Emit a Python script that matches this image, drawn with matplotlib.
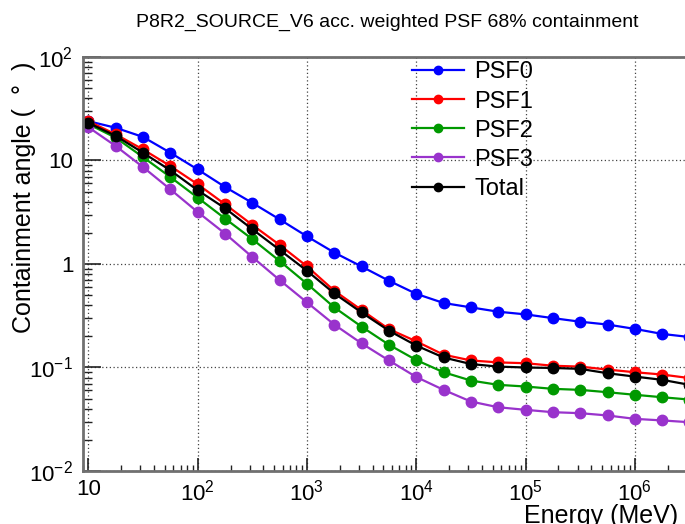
import matplotlib
matplotlib.use("Agg")
import matplotlib.pyplot as plt
from matplotlib.ticker import FixedLocator, FixedFormatter, LogLocator, NullFormatter

plt.rcParams['font.family'] = ['Liberation Sans', 'DejaVu Sans']
plt.rcParams['mathtext.fontset'] = 'custom'
plt.rcParams['mathtext.rm'] = 'Liberation Sans'
plt.rcParams['mathtext.it'] = 'Liberation Sans:italic'
plt.rcParams['mathtext.bf'] = 'Liberation Sans:bold'

# ---------------- data ----------------
energy = [10, 17.8, 31.6, 56.2, 100, 178, 316, 562, 1000, 1778, 3162, 5623,
          10000, 17783, 31623, 56234, 100000, 177828, 316228, 562341,
          1000000, 1778279, 3162278]
psf0 = [24, 20.7, 16.9, 11.9, 8.2, 5.55, 3.9, 2.7, 1.85, 1.29, 0.946, 0.689,
        0.515, 0.42, 0.381, 0.346, 0.326, 0.30, 0.277, 0.26, 0.236, 0.211, 0.197]
psf1 = [24, 17.9, 12.8, 8.85, 5.9, 3.78, 2.39, 1.53, 0.95, 0.552, 0.359, 0.235,
        0.179, 0.133, 0.117, 0.112, 0.11, 0.104, 0.102, 0.0955, 0.09, 0.0855, 0.079]
psf2 = [22.5, 16.6, 10.8, 6.93, 4.38, 2.75, 1.74, 1.07, 0.645, 0.381, 0.248, 0.166,
        0.118, 0.09, 0.0748, 0.068, 0.0655, 0.0622, 0.0608, 0.0577, 0.0545, 0.0516, 0.049]
psf3 = [21, 13.8, 8.65, 5.27, 3.18, 1.97, 1.17, 0.70, 0.426, 0.26, 0.171, 0.117,
        0.081, 0.0608, 0.0469, 0.0413, 0.039, 0.037, 0.0362, 0.0344, 0.0319, 0.0308, 0.0296]
total = [23.1, 17.3, 11.9, 8.04, 5.16, 3.46, 2.17, 1.37, 0.86, 0.52, 0.34, 0.227,
         0.163, 0.125, 0.108, 0.102, 0.1, 0.099, 0.097, 0.088, 0.0817, 0.076, 0.068]

series_labels = ["PSF0", "PSF1", "PSF2", "PSF3", "Total"]
series_colors = ["#0000ff", "#ff0000", "#009900", "#9933cc", "#000000"]

xtick_vals = [10, 1e2, 1e3, 1e4, 1e5, 1e6]
xtick_labels = ["10", r"$\mathregular{10^{2}}$", r"$\mathregular{10^{3}}$",
                r"$\mathregular{10^{4}}$", r"$\mathregular{10^{5}}$", r"$\mathregular{10^{6}}$"]
ytick_vals = [0.01, 0.1, 1, 10, 100]
ytick_labels = [r"$\mathregular{10^{-2}}$", r"$\mathregular{10^{-1}}$", "1", "10",
                r"$\mathregular{10^{2}}$"]

title = "P8R2_SOURCE_V6 acc. weighted PSF 68% containment"
xlabel = "Energy (MeV)"
ylabel = "Containment angle (  °  )"

# ---------------- figure ----------------
W, H = 685, 524
fig = plt.figure(figsize=(W / 100, H / 100), dpi=100)
L, R, T, B = 83, 689.5, 57, 471
ax = fig.add_axes([L / W, 1 - B / H, (R - L) / W, (B - T) / H])
ax.set_xscale('log')
ax.set_yscale('log')

for vals, lab, col in zip([psf0, psf1, psf2, psf3, total], series_labels, series_colors):
    ax.plot(energy, vals, color=col, lw=1.6, marker='o', ms=7.5, mec=col, mfc=col,
            label=lab, clip_on=True)

ax.set_xlim(8.94, 3.1623e6)
ax.set_ylim(0.01, 100)

ax.xaxis.set_major_locator(FixedLocator(xtick_vals))
ax.xaxis.set_major_formatter(FixedFormatter(xtick_labels))
ax.yaxis.set_major_locator(FixedLocator(ytick_vals))
ax.yaxis.set_major_formatter(FixedFormatter(ytick_labels))
ax.xaxis.set_minor_locator(LogLocator(base=10, subs=range(2, 10), numticks=20))
ax.yaxis.set_minor_locator(LogLocator(base=10, subs=range(2, 10), numticks=20))
ax.xaxis.set_minor_formatter(NullFormatter())
ax.yaxis.set_minor_formatter(NullFormatter())

ax.tick_params(axis='x', which='major', direction='in', length=12.7 * 0.72, width=1.2,
               color='#222222', labelsize=16, pad=6, top=False)
ax.tick_params(axis='x', which='minor', direction='in', length=6.4 * 0.72, width=1.0,
               color='#222222', top=False)
ax.tick_params(axis='y', which='major', direction='in', length=18 * 0.72, width=1.2,
               color='#222222', labelsize=16, pad=7, right=False)
ax.tick_params(axis='y', which='minor', direction='in', length=9 * 0.72, width=1.0,
               color='#222222', right=False)

ax.grid(True, which='major', linestyle=(0, (1, 2)), color='#444444', lw=0.9)
for sp in ax.spines.values():
    sp.set_color('#707070')
    sp.set_linewidth(2.0)

fig.text(387 / W, 1 - 27 / H, title, ha='center', va='baseline', fontsize=14)
fig.text(678 / W, 1 - 523 / H, xlabel, ha='right', va='baseline', fontsize=18)
fig.text(24 / W, 1 - 197 / H, ylabel, ha='center', va='center', rotation=90, fontsize=18)

leg = ax.legend(loc='upper left', bbox_to_anchor=(412 / W, 1 - 61.5 / H),
                bbox_transform=fig.transFigure, frameon=False, fontsize=17,
                handlelength=2.2, handletextpad=0.45, labelspacing=0.3,
                borderpad=0, borderaxespad=0, markerscale=0.8)

fig.savefig("out.png", dpi=100)
